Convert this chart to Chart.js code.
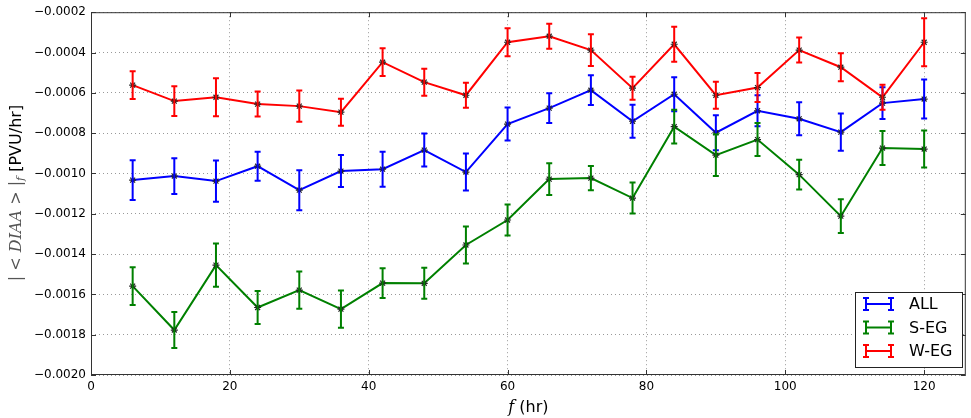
<!DOCTYPE html>
<html>
<head>
<meta charset="utf-8">
<script src="https://cdn.jsdelivr.net/npm/chart.js@4.4.1/dist/chart.umd.min.js"></script>
<style>
  html, body { margin: 0; padding: 0; background: #fff; }
  #wrap { width: 971px; height: 418px; position: relative; }
</style>
</head>
<body>
<div id="wrap"><canvas id="chart" width="971" height="418"></canvas></div>
<script>
// forecast hour
const hours = [6, 12, 18, 24, 30, 36, 42, 48, 54, 60, 66, 72, 78, 84, 90, 96, 102, 108, 114, 120];

// |<DIAA>|_f per group, with error-bar half widths
const allMean = [-0.001033, -0.001013, -0.001038, -0.000964, -0.001083, -0.000988, -0.000979, -0.000884, -0.000993, -0.000755,
                 -0.000676, -0.000587, -0.000741, -0.000607, -0.000798, -0.000689, -0.000729, -0.000795, -0.000651, -0.000631];
const allErr  = [0.000099, 0.000089, 0.000102, 0.000072, 0.000099, 0.000079, 0.000087, 0.000082, 0.000092, 0.000082,
                 0.000074, 0.000074, 0.000082, 0.000084, 0.000087, 0.000077, 0.000082, 0.000092, 0.000079, 0.000097];

const segMean = [-0.001559, -0.001777, -0.001455, -0.001665, -0.001579, -0.001673, -0.001544, -0.001545, -0.001355, -0.001231,
                 -0.001028, -0.001023, -0.001122, -0.000768, -0.000909, -0.000832, -0.001006, -0.001212, -0.000874, -0.000879];
const segErr  = [0.000094, 0.000089, 0.000107, 0.000082, 0.000092, 0.000092, 0.000074, 0.000077, 0.000092, 0.000077,
                 0.000079, 0.000060, 0.000077, 0.000084, 0.000104, 0.000082, 0.000074, 0.000084, 0.000084, 0.000092];

const wegMean = [-0.000562, -0.000641, -0.000622, -0.000656, -0.000666, -0.000696, -0.000448, -0.000547, -0.000612, -0.000349,
                 -0.000319, -0.000388, -0.000577, -0.000359, -0.000612, -0.000574, -0.000388, -0.000473, -0.000622, -0.000349];
const wegErr  = [0.000069, 0.000074, 0.000094, 0.000062, 0.000077, 0.000067, 0.000069, 0.000067, 0.000062, 0.000069,
                 0.000062, 0.000079, 0.000057, 0.000087, 0.000067, 0.000072, 0.000062, 0.000069, 0.000062, 0.000119];

const seriesNames = ['ALL', 'S-EG', 'W-EG'];
const seriesColors = ['#0000ff', '#008000', '#ff0000'];
const xTicks = [0, 20, 40, 60, 80, 100, 120];

function pts(means) { return hours.map((h, i) => ({ x: h, y: means[i] })); }
const errs = [allErr, segErr, wegErr];

function fmtY(v) {
    const s = v.toFixed(4);
    return s.replace('-', '\u2212');
}

// error bars under each line
const errorBarPlugin = {
    id: 'errorBars',
    afterDatasetDraw(chart, args) {
        const i = args.index;
        const ds = chart.data.datasets[i];
        const xs = chart.scales.x, ys = chart.scales.y;
        const ctx = chart.ctx;
        ctx.save();
        ctx.strokeStyle = ds.borderColor;
        ctx.lineWidth = 2;
        ds.data.forEach((p, k) => {
            const e = errs[i][k];
            const px = xs.getPixelForValue(p.x);
            const top = ys.getPixelForValue(p.y + e);
            const bot = ys.getPixelForValue(p.y - e);
            ctx.beginPath();
            ctx.moveTo(px, top); ctx.lineTo(px, bot);
            ctx.moveTo(px - 3, top); ctx.lineTo(px + 3, top);
            ctx.moveTo(px - 3, bot); ctx.lineTo(px + 3, bot);
            ctx.stroke();
        });
        ctx.restore();
    }
};

// frame, inward ticks, axis titles and legend
const decorPlugin = {
    id: 'decor',
    afterDraw(chart) {
        const ctx = chart.ctx;
        const a = chart.chartArea;
        const xs = chart.scales.x, ys = chart.scales.y;
        ctx.save();
        ctx.strokeStyle = '#333';
        ctx.lineWidth = 1;
        ctx.strokeRect(a.left + 0.5, a.top + 0.5, a.right - a.left - 1, a.bottom - a.top - 1);
        ctx.beginPath();
        ys.ticks.forEach(t => {
            const py = Math.round(ys.getPixelForValue(t.value)) + 0.5;
            ctx.moveTo(a.left, py); ctx.lineTo(a.left + 5, py);
            ctx.moveTo(a.right, py); ctx.lineTo(a.right - 5, py);
        });
        xs.ticks.forEach(t => {
            const px = Math.round(xs.getPixelForValue(t.value)) + 0.5;
            ctx.moveTo(px, a.bottom); ctx.lineTo(px, a.bottom - 5);
            ctx.moveTo(px, a.top); ctx.lineTo(px, a.top + 5);
        });
        ctx.stroke();

        // x title
        ctx.fillStyle = '#000';
        ctx.textBaseline = 'middle';
        const f1 = 'italic 16px "DejaVu Serif"';
        const f2 = '16px "DejaVu Sans"';
        ctx.font = f1; const w1 = ctx.measureText('f').width;
        ctx.font = f2; const w2 = ctx.measureText(' (hr)').width;
        let sx = (a.left + a.right) / 2 - (w1 + w2) / 2;
        ctx.textAlign = 'left';
        ctx.font = f1; ctx.fillText('f', sx, 408);
        ctx.font = f2; ctx.fillText(' (hr)', sx + w1, 408);

        // y title, rotated
        const parts = [
            { t: '| < ', f: '16px "DejaVu Serif"', dy: 0, g: true },
            { t: 'DIAA', f: 'italic 16px "DejaVu Serif"', dy: 0, g: true },
            { t: ' > |', f: '16px "DejaVu Serif"', dy: 0, g: true },
            { t: 'f', f: 'italic 11px "DejaVu Serif"', dy: 4, g: true },
            { t: ' [PVU/hr]', f: '16px "DejaVu Sans"', dy: 0, g: false }
        ];
        let total = 0;
        parts.forEach(p => { ctx.font = p.f; p.w = ctx.measureText(p.t).width; total += p.w; });
        ctx.translate(17, 193);
        ctx.rotate(-Math.PI / 2);
        let cx = -total / 2;
        parts.forEach(p => {
            ctx.font = p.f;
            ctx.fillStyle = p.g ? '#555' : '#000';
            ctx.fillText(p.t, cx, p.dy);
            cx += p.w;
        });
        ctx.setTransform(1, 0, 0, 1, 0, 0);

        // legend
        const lx = 855, ly = 292, lw = 108, lh = 76;
        ctx.fillStyle = '#fff';
        ctx.fillRect(lx, ly, lw, lh);
        ctx.strokeStyle = '#222';
        ctx.strokeRect(lx + 0.5, ly + 0.5, lw - 1, lh - 1);
        ctx.font = '16px "DejaVu Sans"';
        ctx.textBaseline = 'middle';
        seriesNames.forEach((name, k) => {
            const yy = 304 + k * 23.5;
            const x0 = 866, x1 = 891;
            ctx.strokeStyle = seriesColors[k];
            ctx.lineWidth = 2;
            ctx.beginPath();
            ctx.moveTo(x0, yy); ctx.lineTo(x1, yy);
            ctx.moveTo(x0, yy - 6); ctx.lineTo(x0, yy + 6);
            ctx.moveTo(x1, yy - 6); ctx.lineTo(x1, yy + 6);
            ctx.moveTo(x0 - 3, yy - 6); ctx.lineTo(x0 + 3, yy - 6);
            ctx.moveTo(x0 - 3, yy + 6); ctx.lineTo(x0 + 3, yy + 6);
            ctx.moveTo(x1 - 3, yy - 6); ctx.lineTo(x1 + 3, yy - 6);
            ctx.moveTo(x1 - 3, yy + 6); ctx.lineTo(x1 + 3, yy + 6);
            ctx.stroke();
            ctx.fillStyle = '#000';
            ctx.fillText(name, 909, yy + 1);
        });
        ctx.restore();
    }
};

const datasets = [allMean, segMean, wegMean].map((m, i) => ({
    label: seriesNames[i],
    data: pts(m),
    borderColor: seriesColors[i],
    backgroundColor: seriesColors[i],
    borderWidth: 2,
    pointStyle: 'star',
    pointRadius: 3.5,
    pointBorderColor: '#222',
    pointBorderWidth: 1.2,
    tension: 0,
    order: 3 - i
}));

new Chart(document.getElementById('chart'), {
    type: 'line',
    data: { datasets },
    options: {
        responsive: false,
        animation: false,
        layout: { padding: { left: 0, right: 1, top: 12, bottom: 0 } },
        plugins: { legend: { display: false }, tooltip: { enabled: false } },
        scales: {
            x: {
                type: 'linear',
                min: 0, max: 126,
                afterBuildTicks: s => { s.ticks = xTicks.map(v => ({ value: v })); },
                afterFit: s => { s.height = 43; },
                ticks: { color: '#000', font: { family: 'DejaVu Sans', size: 12 }, padding: 5, maxRotation: 0 },
                grid: { color: 'rgba(0,0,0,0.4)', lineWidth: 1, drawTicks: false },
                border: { display: false, dash: [1, 3] }
            },
            y: {
                min: -0.002, max: -0.0002,
                ticks: { stepSize: 0.0002, color: '#000', font: { family: 'DejaVu Sans', size: 12 }, padding: 5, callback: v => fmtY(v) },
                afterFit: s => { s.width = 91; },
                grid: { color: 'rgba(0,0,0,0.4)', lineWidth: 1, drawTicks: false },
                border: { display: false, dash: [1, 3] }
            }
        }
    },
    plugins: [errorBarPlugin, decorPlugin]
});
</script>
</body>
</html>
